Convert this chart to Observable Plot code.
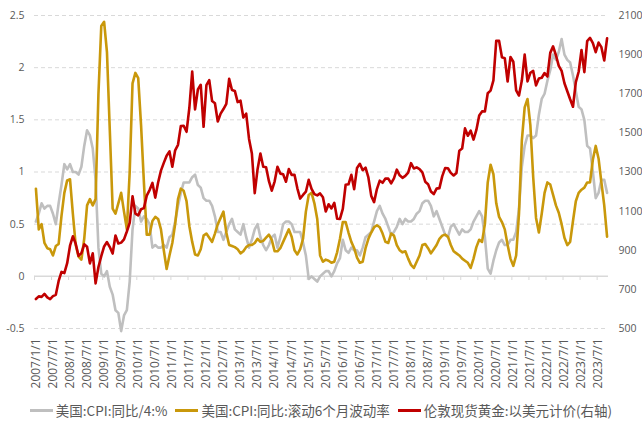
<!DOCTYPE html>
<html><head><meta charset="utf-8">
<script src="https://cdn.jsdelivr.net/npm/d3@7"></script>
<script src="https://cdn.jsdelivr.net/npm/@observablehq/plot@0.6"></script>
<style>
body{margin:0;background:#fff;font-family:"Open Sans",sans-serif;}
#chart{height:395px;}
#legend{display:flex;justify-content:center;align-items:center;height:30px;font-family:"Noto Sans CJK SC",sans-serif;font-size:13.5px;color:#595959;gap:8px;}
.item{display:flex;align-items:center;white-space:nowrap;}
.sw{width:23px;height:3px;margin-right:3px;}
</style></head><body>
<div id="chart"></div><div id="legend"></div>
<script>
// Series names
const seriesNames = ["美国:CPI:同比/4:%", "美国:CPI:同比:滚动6个月波动率", "伦敦现货黄金:以美元计价(右轴)"];
const seriesColors = ["#bfbfbf", "#c9980b", "#c00000"];
const startYear = 2007; // monthly, 2007/1 .. 2023/10

// 美国:CPI:同比/4 (%)
const cpiQuarter = [
0.525,0.6,0.7,0.65,0.675,0.675,0.6,0.5,0.7,0.875,1.075,1.025,
1.075,1.0,1.0,0.975,1.05,1.25,1.4,1.35,1.225,0.925,0.275,0.025,
0,0.05,-0.1,-0.175,-0.325,-0.35,-0.525,-0.375,-0.325,-0.05,0.45,0.675,
0.65,0.525,0.575,0.55,0.5,0.275,0.3,0.275,0.275,0.3,0.275,0.375,
0.4,0.525,0.675,0.8,0.9,0.9,0.9,0.95,0.975,0.875,0.85,0.75,
0.725,0.725,0.675,0.575,0.425,0.425,0.35,0.425,0.5,0.55,0.45,0.425,
0.4,0.5,0.375,0.275,0.35,0.45,0.5,0.375,0.3,0.25,0.3,0.375,
0.4,0.275,0.375,0.5,0.525,0.525,0.5,0.425,0.425,0.425,0.325,0.2,
-0.025,0,-0.025,-0.05,0,0.025,0.05,0.05,0,0.05,0.125,0.175,
0.35,0.25,0.225,0.275,0.25,0.25,0.2,0.275,0.375,0.4,0.425,0.525,
0.625,0.675,0.6,0.55,0.475,0.4,0.425,0.475,0.55,0.5,0.55,0.525,
0.525,0.55,0.6,0.625,0.7,0.725,0.725,0.675,0.575,0.625,0.55,0.475,
0.4,0.375,0.475,0.5,0.45,0.4,0.45,0.425,0.425,0.45,0.525,0.575,
0.625,0.575,0.375,0.075,0.025,0.15,0.25,0.325,0.35,0.3,0.3,0.35,
0.35,0.425,0.65,1.05,1.25,1.35,1.35,1.325,1.35,1.55,1.7,1.75,
1.875,1.975,2.125,2.075,2.15,2.275,2.125,2.075,2.05,1.925,1.775,1.625,
1.6,1.5,1.25,1.225,1.0,0.75,0.8,0.925,0.925,0.8];

// 美国:CPI:同比:滚动6个月波动率
const cpiVol = [
0.84,0.45,0.50,0.32,0.27,0.26,0.20,0.29,0.31,0.58,0.80,0.92,
0.93,0.60,0.30,0.19,0.16,0.36,0.68,0.74,0.68,0.74,1.75,2.40,
2.44,2.15,1.40,0.65,0.60,0.70,0.80,0.62,0.45,1.00,1.85,1.95,
1.90,1.45,0.90,0.40,0.40,0.53,0.57,0.55,0.45,0.25,0.07,0.20,
0.32,0.50,0.74,0.84,0.82,0.72,0.48,0.33,0.21,0.20,0.26,0.39,
0.41,0.37,0.33,0.41,0.50,0.56,0.62,0.42,0.30,0.29,0.28,0.26,
0.22,0.24,0.28,0.30,0.30,0.32,0.36,0.33,0.34,0.37,0.40,0.35,
0.24,0.24,0.27,0.33,0.39,0.45,0.38,0.25,0.21,0.26,0.36,0.62,
0.78,0.80,0.70,0.55,0.20,0.14,0.16,0.15,0.13,0.14,0.23,0.36,
0.52,0.52,0.42,0.33,0.27,0.18,0.13,0.14,0.27,0.36,0.42,0.47,
0.49,0.47,0.41,0.33,0.32,0.41,0.39,0.30,0.25,0.23,0.24,0.17,
0.11,0.08,0.14,0.20,0.30,0.31,0.27,0.22,0.26,0.30,0.36,0.39,
0.40,0.38,0.30,0.24,0.22,0.20,0.17,0.15,0.13,0.08,0.17,0.28,
0.35,0.33,0.50,0.90,1.07,0.98,0.70,0.57,0.52,0.45,0.30,0.17,
0.10,0.20,0.60,1.30,1.62,1.70,1.45,0.95,0.56,0.42,0.60,0.80,
0.90,0.88,0.78,0.68,0.61,0.50,0.37,0.30,0.33,0.53,0.72,0.80,
0.83,0.85,0.90,0.90,1.12,1.25,1.13,0.90,0.68,0.38];

// 伦敦现货黄金:以美元计价 (right axis)
const goldPrice = [
650.5,664.2,661.75,677,659.1,650.5,665.5,672,743,789.5,783.5,833.75,
923.25,971.5,933.5,871,885.75,930.25,918,833,884.5,730.75,814.5,869.75,
919.5,942,916.5,883.25,975.5,934.5,939,955.5,995.75,1040,1175.75,1087.5,
1078.5,1109.5,1115.5,1179.25,1207.5,1244,1169,1246,1307,1346.75,1383.5,1405.5,
1327,1411,1439,1535.5,1536.5,1505.5,1628.5,1813.5,1620,1722,1746,1531,
1744,1770,1662.5,1651.25,1558,1598.5,1622,1648.5,1776,1719,1714.5,1657.5,
1664.75,1578.25,1598.25,1469,1394.5,1192,1314.5,1394.75,1326.5,1324,1253,1204.5,
1251,1326.5,1291.75,1288.5,1250.5,1315,1285.25,1285.75,1216.5,1164.25,1182.75,1199.25,
1260.25,1214,1187,1180.25,1190.5,1171,1098.4,1135,1114,1142.35,1061.1,1060,
1111.8,1234.9,1237,1285.65,1212.1,1320.75,1342,1309.25,1322.5,1272,1178.1,1145.9,
1212.8,1255.6,1244.85,1266.45,1266.2,1242.25,1267.55,1311.75,1283.1,1270.15,1280.25,1296.5,
1345.15,1317.85,1323.85,1315.05,1298.25,1250.45,1237.9,1200.5,1187.25,1215,1217.55,1279,
1319.75,1319.15,1295.4,1282.3,1295.25,1409,1419.9,1523,1485.3,1510.95,1465.6,1514.75,
1589.2,1609.85,1608.95,1702.75,1715.9,1768.1,1971.1,1970.3,1886.9,1881.85,1762.5,1887.6,
1863.8,1717.05,1691.05,1767.45,1899.95,1763.15,1807.3,1816.65,1742.8,1778.45,1781.95,1805.85,
1788.15,1908.95,1942.15,1896.85,1842.2,1817,1753.4,1712.85,1671.75,1633.6,1759.9,1812.35,
1923.45,1810.4,1969,1985.3,1958.35,1912.25,1961.65,1938.2,1870.05,1983.4];

const xTickLabels = ["2007/1/1","2007/7/1","2008/1/1","2008/7/1","2009/1/1","2009/7/1","2010/1/1","2010/7/1",
"2011/1/1","2011/7/1","2012/1/1","2012/7/1","2013/1/1","2013/7/1","2014/1/1","2014/7/1","2015/1/1","2015/7/1",
"2016/1/1","2016/7/1","2017/1/1","2017/7/1","2018/1/1","2018/7/1","2019/1/1","2019/7/1","2020/1/1","2020/7/1",
"2021/1/1","2021/7/1","2022/1/1","2022/7/1","2023/1/1","2023/7/1"];
const leftTicks = [-0.5, 0, 0.5, 1, 1.5, 2, 2.5];
const rightTicks = [500, 700, 900, 1100, 1300, 1500, 1700, 1900, 2100];

// scale mapping: right axis [500,2100] onto left axis [-0.5,2.5]
const L0 = -0.5, L1 = 2.5, R0 = 500, R1 = 2100;
const toLeft = p => L0 + (p - R0) * (L1 - L0) / (R1 - R0);
const toRight = v => R0 + (v - L0) * (R1 - R0) / (L1 - L0);

const n = goldPrice.length;
const rows = d3.range(n).map(i => ({m: i, cpi: cpiQuarter[i], vol: cpiVol[i], gold: toLeft(goldPrice[i])}));
const labelData = xTickLabels.map(s => { const [y, mo] = s.split("/").map(Number); return {label: s, m: (y - startYear) * 12 + (mo - 1)}; });
const tickMarks = labelData.map(d => d.m - 0.5);

const chart = Plot.plot({
  width: 642, height: 395,
  marginLeft: 34, marginRight: 34, marginTop: 15, marginBottom: 67,
  x: {domain: [-0.5, n - 0.5], axis: null},
  y: {domain: [L0, L1], axis: null},
  style: {fontFamily: "Open Sans, sans-serif", color: "#595959", background: "#fff"},
  marks: [
    Plot.ruleY(leftTicks.filter(d => d !== 0), {stroke: "#d9d9d9", strokeDasharray: "4,3", strokeWidth: 1}),
    Plot.ruleY([0], {stroke: "#d9d9d9", strokeWidth: 1.5}),
    Plot.ruleX(tickMarks, {x: d => d, y1: 0, y2: -0.04, stroke: "#d9d9d9", strokeWidth: 1}),
    Plot.line(rows, {x: "m", y: "cpi", stroke: seriesColors[0], strokeWidth: 2.6, strokeLinejoin: "round"}),
    Plot.line(rows, {x: "m", y: "vol", stroke: seriesColors[1], strokeWidth: 2.6, strokeLinejoin: "round"}),
    Plot.line(rows, {x: "m", y: "gold", stroke: seriesColors[2], strokeWidth: 2.6, strokeLinejoin: "round"}),
    Plot.axisY(leftTicks, {anchor: "left", tickSize: 0, tickPadding: 10, fontSize: 10.5, tickFormat: d => String(d)}),
    Plot.axisY(rightTicks.map(toLeft), {anchor: "right", tickSize: 0, tickPadding: 10, fontSize: 10.5, tickFormat: d => String(Math.round(toRight(d)))}),
    Plot.text(labelData, {x: "m", frameAnchor: "bottom", dy: 10, text: "label", rotate: -90, textAnchor: "end", lineAnchor: "middle", fontSize: 12, fill: "#595959"})
  ]
});
document.getElementById("chart").appendChild(chart);

const legend = document.getElementById("legend");
seriesNames.forEach((name, i) => {
  const item = document.createElement("div"); item.className = "item";
  const sw = document.createElement("span"); sw.className = "sw"; sw.style.background = seriesColors[i];
  const t = document.createElement("span"); t.textContent = name;
  item.appendChild(sw); item.appendChild(t); legend.appendChild(item);
});
</script></body></html>
